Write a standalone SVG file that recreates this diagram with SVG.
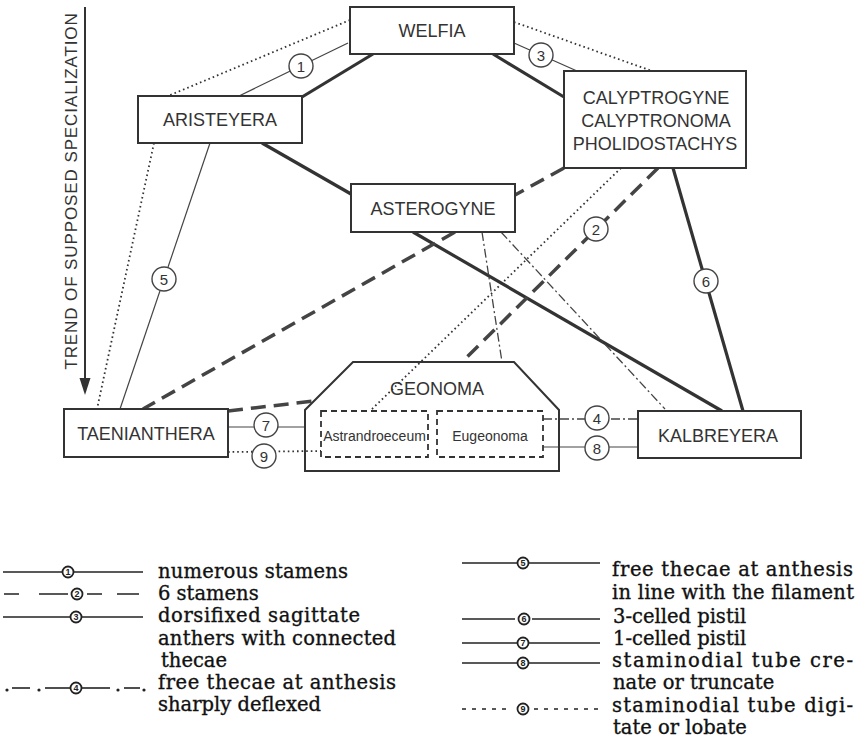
<svg xmlns="http://www.w3.org/2000/svg" width="860" height="739" viewBox="0 0 860 739">
<defs>
<style>
.box{fill:#fff;stroke:#333;stroke-width:2}
.ibox{fill:none;stroke:#333;stroke-width:1.8;stroke-dasharray:6 4}
.lbl{font-family:"Liberation Sans",Arial,sans-serif;font-size:18px;fill:#333;text-anchor:middle}
.sm{font-size:14px}
.thick{stroke:#333;stroke-width:3.2;fill:none}
.thin{stroke:#444;stroke-width:1.2;fill:none}
.dash{stroke:#444;stroke-width:3.5;stroke-dasharray:15 8;fill:none}
.dot{stroke:#333;stroke-width:1.8;stroke-dasharray:1.6 3;fill:none}
.dd{stroke:#444;stroke-width:1.3;stroke-dasharray:9 3 2 3;fill:none}
.nc{fill:#fff;stroke:#444;stroke-width:1.4}
.nt{font-family:"Liberation Sans",Arial,sans-serif;font-size:15px;fill:#333;text-anchor:middle}
.lc{fill:#fff;stroke:#222;stroke-width:1.8}
.lt{font-family:"Liberation Sans",Arial,sans-serif;font-size:9px;font-weight:bold;fill:#222;text-anchor:middle}
.leg{font-family:"DejaVu Serif","Liberation Serif",serif;font-size:19.5px;fill:#111;stroke:#111;stroke-width:0.35}
.ls{stroke:#222;stroke-width:1.6;fill:none}
</style>
</defs>
<rect width="860" height="739" fill="#fff"/>

<g id="trend">
<line x1="85" y1="7" x2="85" y2="382" stroke="#333" stroke-width="2"/>
<polygon points="79.5,378 90.5,378 85,395" fill="#333"/>
<text class="lbl" transform="translate(77,191) rotate(-90)" style="font-size:17px;letter-spacing:0.9px">TREND OF SUPPOSED SPECIALIZATION</text>
</g>

<g id="connectors">
<!-- dotted (9) -->
<line class="dot" x1="350" y1="20" x2="168" y2="96"/>
<line class="dot" x1="154" y1="143" x2="97" y2="409"/>
<line class="dot" x1="514" y1="22" x2="652" y2="71"/>
<line class="dot" x1="621" y1="168" x2="370" y2="411"/>
<line class="dot" x1="228" y1="452" x2="321" y2="451"/>
<!-- thin (1,3,5,7,8) -->
<line class="thin" x1="348" y1="43" x2="239" y2="96"/>
<line class="thin" x1="514" y1="43" x2="577" y2="71"/>
<line class="thin" x1="210" y1="143" x2="120" y2="409"/>
<line class="thin" x1="228" y1="427" x2="305" y2="427"/>
<line class="thin" x1="543" y1="447" x2="638" y2="447"/>
<!-- thick (6) -->
<line class="thick" x1="373" y1="54" x2="302" y2="97"/>
<line class="thick" x1="262" y1="143" x2="351" y2="194"/>
<line class="thick" x1="493" y1="54" x2="564" y2="97"/>
<line class="thick" x1="413" y1="232" x2="722" y2="411"/>
<line class="thick" x1="673" y1="168" x2="743" y2="411"/>
<!-- dashed (2) -->
<line class="dash" x1="564" y1="168" x2="515" y2="195"/>
<line class="dash" x1="455" y1="232" x2="143" y2="409"/>
<line class="dash" x1="228" y1="411" x2="314" y2="401"/>
<line class="dash" x1="658" y1="168" x2="462" y2="362"/>
<!-- dash-dot (4) -->
<line class="dd" x1="482" y1="232" x2="502" y2="362"/>
<line class="dd" x1="501" y1="232" x2="665" y2="409"/>
<line class="dd" x1="543" y1="419" x2="638" y2="419"/>
<!-- number circles -->
<circle class="nc" cx="301" cy="66" r="12"/><text class="nt" x="301" y="71.5">1</text>
<circle class="nc" cx="596" cy="229" r="12"/><text class="nt" x="596" y="234.5">2</text>
<circle class="nc" cx="541" cy="55" r="12"/><text class="nt" x="541" y="60.5">3</text>
<circle class="nc" cx="597" cy="418" r="12"/><text class="nt" x="597" y="423.5">4</text>
<circle class="nc" cx="164" cy="279" r="12"/><text class="nt" x="164" y="284.5">5</text>
<circle class="nc" cx="706" cy="281" r="12"/><text class="nt" x="706" y="286.5">6</text>
<circle class="nc" cx="266" cy="425" r="12"/><text class="nt" x="266" y="430.5">7</text>
<circle class="nc" cx="597" cy="448" r="12"/><text class="nt" x="597" y="453.5">8</text>
<circle class="nc" cx="264" cy="456" r="12"/><text class="nt" x="264" y="461.5">9</text>
</g>

<g id="welfia">
<rect class="box" x="350" y="7" width="164" height="47"/>
<text class="lbl" x="432" y="37">WELFIA</text>
</g>
<g id="aristeyera">
<rect class="box" x="138" y="96" width="164" height="47"/>
<text class="lbl" x="220" y="126">ARISTEYERA</text>
</g>
<g id="calyptrogyne">
<rect class="box" x="564" y="71" width="182" height="97"/>
<text class="lbl" x="656" y="104">CALYPTROGYNE</text>
<text class="lbl" x="656" y="127">CALYPTRONOMA</text>
<text class="lbl" x="655" y="150">PHOLIDOSTACHYS</text>
</g>
<g id="asterogyne">
<rect class="box" x="351" y="184" width="164" height="48"/>
<text class="lbl" x="433" y="214.5">ASTEROGYNE</text>
</g>
<g id="taenianthera">
<rect class="box" x="64" y="409" width="164" height="48"/>
<text class="lbl" x="146" y="440">TAENIANTHERA</text>
</g>
<g id="kalbreyera">
<rect class="box" x="638" y="411" width="163" height="47"/>
<text class="lbl" x="718" y="442">KALBREYERA</text>
</g>
<g id="geonoma">
<polygon points="353,362 514,362 559,410 559,471 305,471 305,410" fill="none" stroke="#333" stroke-width="2"/>
<text class="lbl" x="437" y="395">GEONOMA</text>
<g id="astrandroeceum">
<rect class="ibox" x="321" y="411" width="107" height="46"/>
<text class="lbl sm" x="374.5" y="441">Astrandroeceum</text>
</g>
<g id="eugeonoma">
<rect class="ibox" x="437" y="411" width="106" height="46"/>
<text class="lbl sm" x="490" y="441">Eugeonoma</text>
</g>
</g>

<g id="legend">
<!-- row 1 -->
<line class="ls" x1="3" y1="572" x2="143" y2="572" stroke-width="1.4"/>
<circle class="lc" cx="68" cy="572" r="5.5"/><text class="lt" x="68" y="575.3">1</text>
<!-- row 2 -->
<line class="ls" x1="4" y1="594" x2="143" y2="594" stroke-width="3" stroke-dasharray="15 20 29 19 15 15 22"/>
<circle class="lc" cx="77" cy="594" r="5.5"/><text class="lt" x="77" y="597.3">2</text>
<!-- row 3 -->
<line class="ls" x1="3" y1="617" x2="143" y2="617" stroke-width="1.4"/>
<circle class="lc" cx="76" cy="617" r="5.5"/><text class="lt" x="76" y="620.3">3</text>
<!-- row 4 -->
<line class="ls" x1="12" y1="688" x2="30" y2="688" stroke-width="2"/>
<line class="ls" x1="45" y1="688" x2="70" y2="688" stroke-width="2"/>
<line class="ls" x1="82" y1="688" x2="110" y2="688" stroke-width="2"/>
<line class="ls" x1="124" y1="688" x2="140" y2="688" stroke-width="2"/>
<circle cx="7" cy="690" r="1.6" fill="#222"/><circle cx="39" cy="690" r="1.6" fill="#222"/>
<circle cx="118" cy="690" r="1.6" fill="#222"/><circle cx="144" cy="690" r="1.6" fill="#222"/>
<circle class="lc" cx="76" cy="688" r="5.5"/><text class="lt" x="76" y="691.3">4</text>

<!-- row 5 -->
<line class="ls" x1="462" y1="563" x2="600" y2="563" stroke-width="1.5"/>
<circle class="lc" cx="523" cy="563" r="5.5"/><text class="lt" x="523" y="566.3">5</text>
<!-- row 6 -->
<line class="ls" x1="462" y1="619" x2="515" y2="619" stroke-width="2.6"/>
<line class="ls" x1="532" y1="619" x2="600" y2="619" stroke-width="2.6"/>
<circle class="lc" cx="524" cy="619" r="5.5"/><text class="lt" x="524" y="622.3">6</text>
<!-- row 7 -->
<line class="ls" x1="462" y1="643" x2="600" y2="643" stroke-width="1.5"/>
<circle class="lc" cx="523" cy="643" r="5.5"/><text class="lt" x="523" y="646.3">7</text>
<!-- row 8 -->
<line class="ls" x1="462" y1="663" x2="600" y2="663" stroke-width="1.5"/>
<circle class="lc" cx="523" cy="663" r="5.5"/><text class="lt" x="523" y="666.3">8</text>
<!-- row 9 -->
<line class="ls" x1="462" y1="709" x2="508" y2="709" stroke-width="3" stroke-dasharray="4 6"/>
<line class="ls" x1="534" y1="709" x2="600" y2="709" stroke-width="3" stroke-dasharray="4 6"/>
<circle class="lc" cx="523" cy="709" r="5.5"/><text class="lt" x="523" y="712.3">9</text>

<text class="leg" x="158" y="578" textLength="190" lengthAdjust="spacing">numerous stamens</text>
<text class="leg" x="158" y="600">6 stamens</text>
<text class="leg" x="158" y="622" textLength="202" lengthAdjust="spacing">dorsifixed sagittate</text>
<text class="leg" x="158" y="645" textLength="238" lengthAdjust="spacing">anthers with connected</text>
<text class="leg" x="161" y="667">thecae</text>
<text class="leg" x="158" y="689" textLength="238" lengthAdjust="spacing">free thecae at anthesis</text>
<text class="leg" x="158" y="711">sharply deflexed</text>

<text class="leg" x="612" y="576" textLength="241" lengthAdjust="spacing">free thecae at anthesis</text>
<text class="leg" x="612" y="599" textLength="242" lengthAdjust="spacing">in line with the filament</text>
<text class="leg" x="613" y="623">3-celled pistil</text>
<text class="leg" x="613" y="645">1-celled pistil</text>
<text class="leg" x="612" y="667" textLength="241" lengthAdjust="spacing">staminodial tube cre-</text>
<text class="leg" x="613" y="689">nate or truncate</text>
<text class="leg" x="612" y="712" textLength="241" lengthAdjust="spacing">staminodial tube digi-</text>
<text class="leg" x="613" y="734">tate or lobate</text>
</g>
</svg>
